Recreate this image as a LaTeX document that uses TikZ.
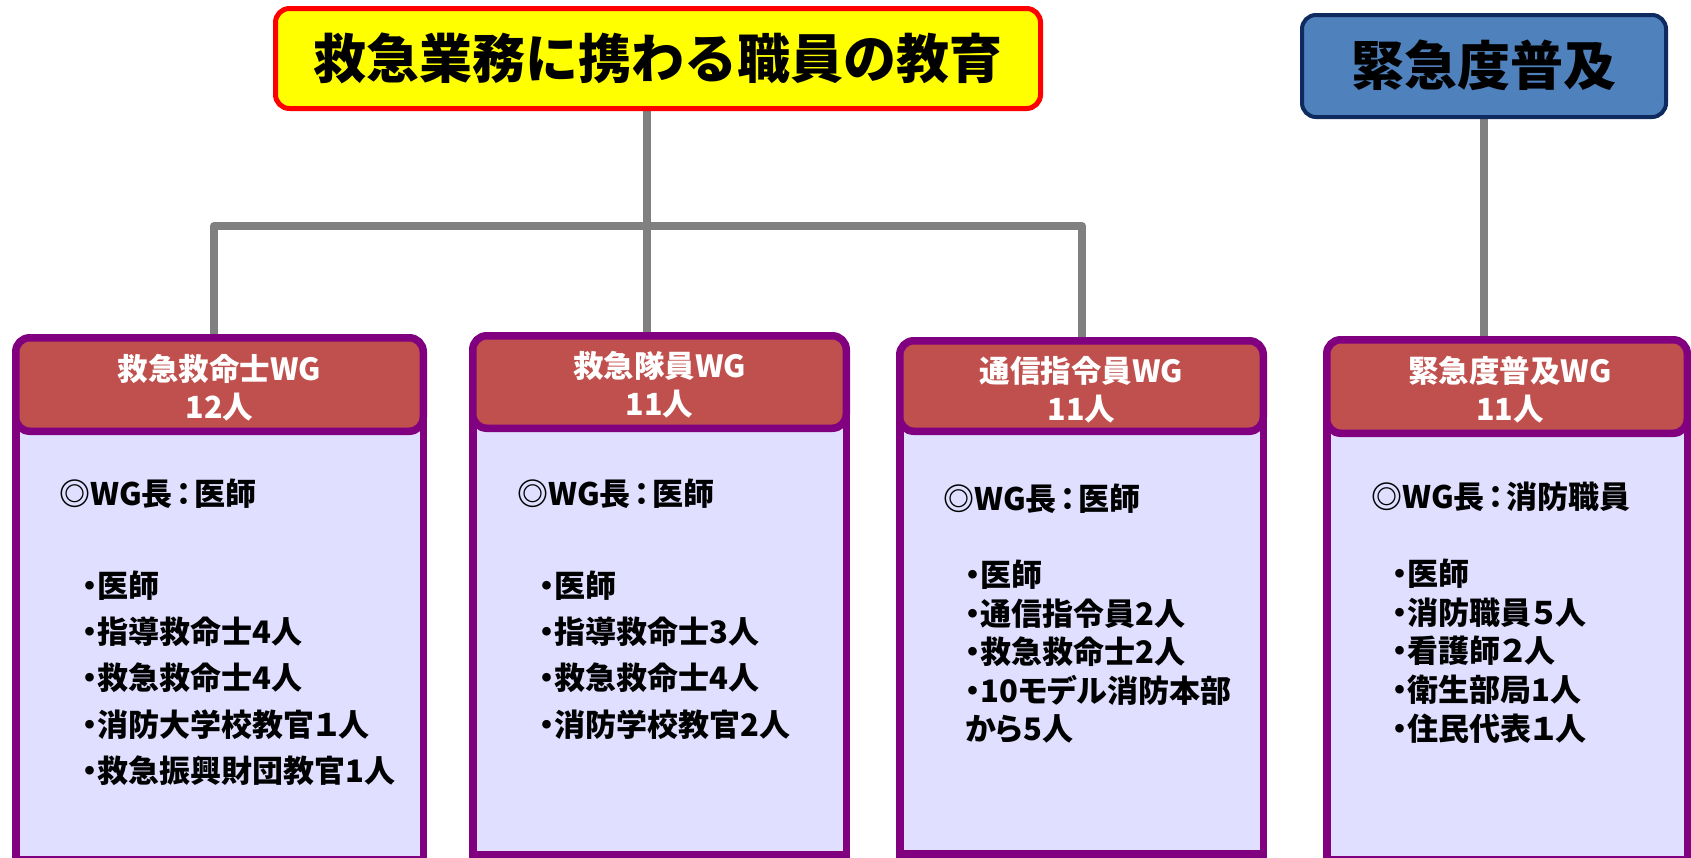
\documentclass[tikz,border=0pt]{standalone}
\usepackage{fontspec}
\setmainfont{Noto Sans CJK JP}[RawFeature=+palt]
\newfontfamily\jpfull{Noto Sans CJK JP}
\usetikzlibrary{backgrounds}
\definecolor{ttlyellow}{HTML}{FFFF00}
\definecolor{ttlred}{HTML}{FF0000}
\definecolor{blufill}{HTML}{4F81BD}
\definecolor{bluedge}{HTML}{0F2A5E}
\definecolor{conngray}{HTML}{808080}
\definecolor{wgpurple}{HTML}{800080}
\definecolor{wgred}{HTML}{C0504D}
\definecolor{wgbody}{HTML}{E0DFFF}
\newcommand{\fcolon}{\kern3pt ：\kern3pt}
\tikzset{
  titlebox/.style={draw=ttlred, fill=ttlyellow, line width=5pt, rounded corners=14pt, inner sep=0pt},
  bluebox/.style={draw=bluedge, fill=blufill, line width=4pt, rounded corners=14pt, inner sep=0pt},
  bigtext/.style={inner sep=0pt, font=\jpfull\fontsize{53pt}{60pt}\selectfont\bfseries},
  hdr/.style={draw=wgpurple, fill=wgred, line width=7.5pt, rounded corners=14pt, inner sep=0pt},
  hdrtext/.style={inner sep=0pt, text=white, align=center, font=\fontsize{30.5pt}{38pt}\selectfont\bfseries},
  wgbodybox/.style={draw=wgpurple, fill=wgbody, line width=7.5pt},
  bodyline/.style={anchor=west, inner sep=0pt, font=\fontsize{31pt}{36pt}\selectfont\bfseries},
  conn/.style={draw=conngray, line width=8pt, line join=round}
}
\begin{document}
\begin{tikzpicture}[x=1pt,y=-1pt]
\useasboundingbox (0,0) rectangle (1691,857);
% top boxes
\node[titlebox, minimum width=765pt, minimum height=100pt] (title) at (658,58.5) {};
\node[bigtext] (titletext) at (658,58) {救急業務に携わる職員の教育};
\node[bluebox, minimum width=364pt, minimum height=102pt] (blue) at (1484,66) {};
\node[bigtext] (bluetext) at (1484,65) {緊急度普及};
% WG boxes: bodies
\draw[wgbodybox] (15.75,384) rectangle (423.25,860);
\draw[wgbodybox] (472.75,384) rectangle (846.25,855);
\draw[wgbodybox] (899.75,384) rectangle (1263.25,854);
\draw[wgbodybox] (1326.75,384) rectangle (1687.25,860);
% headers
\node[hdr, minimum width=407.5pt, minimum height=93.5pt] (h1) at (219.5,384.5) {};
\node[hdr, minimum width=373.5pt, minimum height=92.5pt] (h2) at (659.5,382) {};
\node[hdr, minimum width=363.5pt, minimum height=90.5pt] (h3) at (1081.5,386) {};
\node[hdr, minimum width=360.5pt, minimum height=93.5pt] (h4) at (1507,386.5) {};
\node[hdrtext] (h1t) at (219.5,388) {救急救命士WG\\12人};
\node[hdrtext] (h2t) at (659.5,385) {救急隊員WG\\11人};
\node[hdrtext] (h3t) at (1081.5,389.5) {通信指令員WG\\11人};
\node[hdrtext] (h4t) at (1510,390) {緊急度普及WG\\11人};
% connectors
\coordinate (stem) at (647,226);
\coordinate (lt) at (214,226);
\coordinate (rt) at (1082,226);
\begin{scope}[on background layer]
\draw[conn] (title.south -| stem) -- (h2.north -| stem);
\draw[conn] (h1.north -| lt) -- (lt) -- (rt) -- (h3.north -| rt);
\draw[conn] (blue.south) -- (blue.south |- h4.north);
\end{scope}
% box 1 text
\node[bodyline] (b1h) at (59,494) {◎WG長\fcolon 医師};
\foreach \t [count=\i] in {・医師,・指導救命士4人,・救急救命士4人,・消防大学校教官１人,・救急振興財団教官1人}
  \node[bodyline] (b1l\i) at (82,{586+46.1*(\i-1)}) {\t};
% box 2 text
\node[bodyline] (b2h) at (517,494) {◎WG長\fcolon 医師};
\foreach \t [count=\i] in {・医師,・指導救命士3人,・救急救命士4人,・消防学校教官2人}
  \node[bodyline] (b2l\i) at (539,{586+46.1*(\i-1)}) {\t};
% box 3 text
\node[bodyline] (b3h) at (943,499) {◎WG長\fcolon 医師};
\foreach \t [count=\i] in {・医師,・通信指令員2人,・救急救命士2人,・10モデル消防本部}
  \node[bodyline] (b3l\i) at (965,{575+38.6*(\i-1)}) {\t};
\node[bodyline] (b3l5) at (965,729) {から5人};
% box 4 text
\node[bodyline] (b4h) at (1371,497) {◎WG長\fcolon 消防職員};
\foreach \t [count=\i] in {・医師,・消防職員５人,・看護師２人,・衛生部局1人,・住民代表１人}
  \node[bodyline] (b4l\i) at (1392,{574+38.6*(\i-1)}) {\t};
\end{tikzpicture}
\end{document}
